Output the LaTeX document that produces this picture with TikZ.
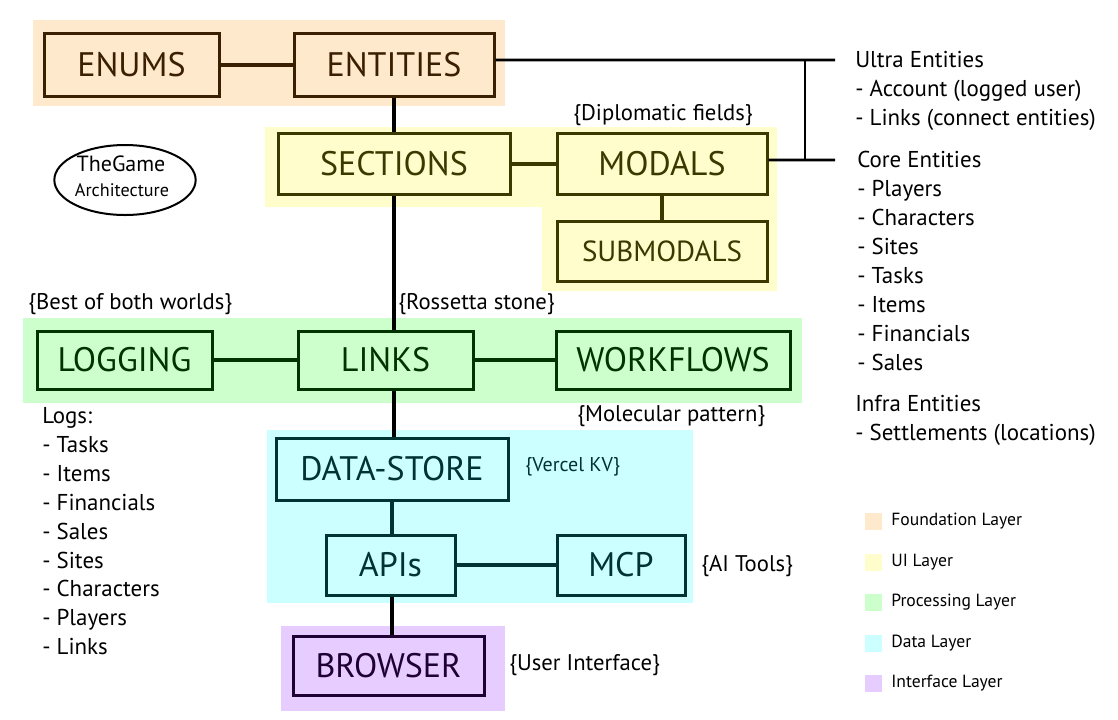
\documentclass[tikz,border=0pt]{standalone}
\usepackage{fontspec}
\setmainfont{PT Sans}
\usetikzlibrary{positioning, shapes.geometric}

\definecolor{foundbg}{HTML}{FFE9CC}
\definecolor{foundline}{HTML}{3A1F00}
\definecolor{uibg}{HTML}{FFFDCC}
\definecolor{uiline}{HTML}{3B3900}
\definecolor{procbg}{HTML}{CCFFCC}
\definecolor{procline}{HTML}{003300}
\definecolor{databg}{HTML}{CCFFFF}
\definecolor{dataline}{HTML}{003333}
\definecolor{ifacebg}{HTML}{E6CCFF}
\definecolor{ifaceline}{HTML}{200033}

\tikzset{
  layerbox/.style={draw, line width=2.25pt, inner sep=0pt,
    font=\fontsize{25.5}{27}\selectfont},
  foundbox/.style={layerbox, draw=foundline, fill=foundbg, text=foundline},
  uibox/.style={layerbox, draw=uiline, fill=uibg, text=uiline},
  procbox/.style={layerbox, draw=procline, fill=procbg, text=procline},
  databox/.style={layerbox, draw=dataline, fill=databg, text=dataline},
  ifacebox/.style={layerbox, draw=ifaceline, fill=ifacebg, text=ifaceline},
  link/.style={line width=3pt},
  note/.style={font=\fontsize{17}{19}\selectfont, inner sep=0pt},
  listtext/.style={font=\fontsize{17.2}{21.7}\selectfont, align=left, inner sep=0pt, anchor=north west},
  legendtext/.style={font=\fontsize{13.2}{15}\selectfont, anchor=west, inner sep=0pt},
  swatch/.style={minimum size=12.75pt, inner sep=0pt}
}

\begin{document}
\begin{tikzpicture}[x=0.75pt, y=-0.75pt]
  \useasboundingbox (0,0) rectangle (1118,719);
  % layer backgrounds
  \fill[foundbg] (33,20) rectangle (505,106);
  \fill[uibg] (265,127) -- (777,127) -- (777,291) -- (542,291) -- (542,207) -- (265,207) -- cycle;
  \fill[procbg] (23,318) rectangle (802,403);
  \fill[databg] (267,430) rectangle (693,603);
  \fill[ifacebg] (281,626) rectangle (505,711);

  % foundation layer
  \node[foundbox, minimum width=131.25pt, minimum height=47.25pt] (enums) at (131.5,64.5) {ENUMS};
  \node[foundbox, minimum width=150pt, minimum height=47.25pt] (entities) at (394,64.5) {ENTITIES};
  % ui layer
  \node[uibox, minimum width=174pt, minimum height=45.75pt] (sections) at (394,163.5) {SECTIONS};
  \node[uibox, minimum width=157.5pt, minimum height=45.75pt] (modals) at (662,163.5) {MODALS};
  \node[uibox, minimum width=157.5pt, minimum height=45pt, font=\fontsize{21.8}{23}\selectfont] (submodals) at (662,251) {SUBMODALS};
  % processing layer
  \node[procbox, minimum width=131.25pt, minimum height=43.5pt] (logging) at (124.5,360) {LOGGING};
  \node[procbox, minimum width=131.25pt, minimum height=43.5pt] (links) at (385.5,360) {LINKS};
  \node[procbox, minimum width=175.5pt, minimum height=43.5pt] (workflows) at (673,360) {WORKFLOWS};
  % data layer
  \node[databox, minimum width=174pt, minimum height=46.5pt] (datastore) at (392,469) {DATA-STORE};
  \node[databox, minimum width=96.75pt, minimum height=45pt] (apis) at (390.5,565) {APIs};
  \node[databox, minimum width=96pt, minimum height=45pt] (mcp) at (621,565) {MCP};
  % interface layer
  \node[ifacebox, minimum width=143.25pt, minimum height=44.25pt] (browser) at (388.5,665.5) {BROWSER};

  % connectors
  \draw[link, foundline] (enums) -- (entities);
  \draw[link, uiline] (sections) -- (modals);
  \draw[link, uiline] (modals) -- (submodals);
  \draw[link, procline] (logging) -- (links);
  \draw[link, procline] (links) -- (workflows);
  \draw[link, dataline] (apis.north -| datastore.south) -- (datastore.south);
  \draw[link, dataline] (apis) -- (mcp);
  \draw[link] (entities) -- (sections);
  \draw[link] (sections.south) -- (sections.south |- links.north);
  \draw[link] (sections.south |- links.south) -- (sections.south |- datastore.north);
  \draw[link] (apis.south -| datastore.south) -- (browser.north -| datastore.south);

  % entity groups
  \coordinate (ultra) at (835,60);
  \coordinate (core) at (835,160);
  \draw[line width=2pt] ([yshift=3.4pt]entities.east) -- (ultra);
  \draw[line width=2pt] ([yshift=2.6pt]modals.east) -- (core);
  \draw[line width=2pt] (805,60) -- (805,160);

  % notes
  \node[note] at (663,115) {\{Diplomatic fields\}};
  \node[note, anchor=west] at (28,304) {\{Best of both worlds\}};
  \node[note, anchor=west] at (398,304) {\{Rossetta stone\}};
  \node[note, anchor=west] at (577,416) {\{Molecular pattern\}};
  \node[note, anchor=west, text=dataline, font=\fontsize{15}{17}\selectfont] at (525,467) {\{Vercel KV\}};
  \node[note, anchor=west] at (701,566) {\{AI Tools\}};
  \node[note, anchor=west] at (509,665) {\{User Interface\}};

  % title
  \node[draw, ellipse, line width=1.5pt, minimum width=106pt, minimum height=52.5pt, inner sep=0pt] (title) at (125,180) {};
  \node[font=\fontsize{16.5}{18}\selectfont, inner sep=0pt] (titletop) at (121,164) {TheGame};
  \node[font=\fontsize{13.6}{15}\selectfont, inner sep=0pt] (titlebottom) at (122,190) {Architecture};

  % entity lists
  \node[listtext] (ultralist) at (855,51)
    {Ultra Entities\\- Account (logged user)\\- Links (connect entities)};
  \node[listtext] (corelist) at (857,151)
    {Core Entities\\- Players\\- Characters\\- Sites\\- Tasks\\- Items\\- Financials\\- Sales};
  \node[listtext] (infralist) at (855,395)
    {Infra Entities\\- Settlements (locations)};
  \node[listtext] (logslist) at (42,407)
    {Logs:\\- Tasks\\- Items\\- Financials\\- Sales\\- Sites\\- Characters\\- Players\\- Links};

  % legend
  \node[swatch, fill=foundbg] (keyfound) at (873,521) {};
  \node[swatch, fill=uibg] (keyui) at (873,562) {};
  \node[swatch, fill=procbg] (keyproc) at (873,602) {};
  \node[swatch, fill=databg] (keydata) at (873,643) {};
  \node[swatch, fill=ifacebg] (keyiface) at (873,683) {};
  \node[legendtext] at (891,521) {Foundation Layer};
  \node[legendtext] at (891,562) {UI Layer};
  \node[legendtext] at (891,602) {Processing Layer};
  \node[legendtext] at (891,643) {Data Layer};
  \node[legendtext] at (891,683) {Interface Layer};
\end{tikzpicture}
\end{document}
